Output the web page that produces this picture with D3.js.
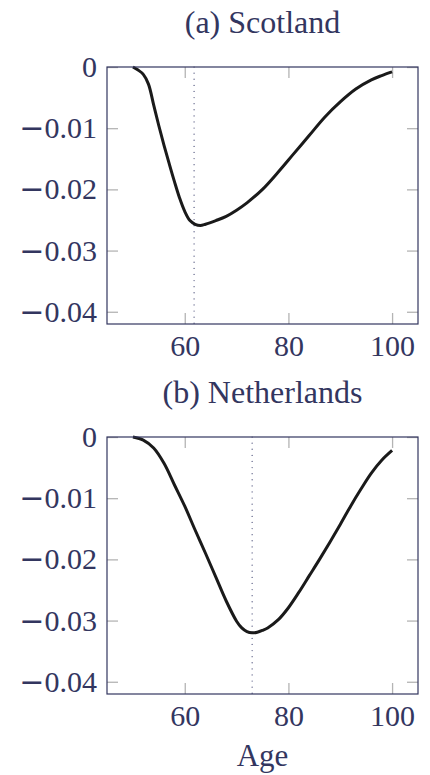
<!DOCTYPE html>
<html>
<head>
<meta charset="utf-8">
<script src="https://cdn.jsdelivr.net/npm/d3@7"></script>
<style>
  body { margin: 0; background: #fff; }
  svg { display: block; }
</style>
</head>
<body>
<div id="chart"></div>
<script>
// values
const scotAge = [50, 51, 52, 53, 54, 55, 56, 57, 58, 59, 60, 61, 62, 63, 64, 66, 68, 70, 72, 75, 78, 81, 84, 87, 90, 93, 96, 98, 100];
const scotVal = [0, -0.0005, -0.0012, -0.0028, -0.0062, -0.0096, -0.0128, -0.0158, -0.0187, -0.0214, -0.0236, -0.0251, -0.0257, -0.0259, -0.0257, -0.0251, -0.0244, -0.0234, -0.0222, -0.0200, -0.0172, -0.0142, -0.0112, -0.0082, -0.0057, -0.0036, -0.0021, -0.0014, -0.0008];

const nlAge = [50, 52, 54, 56, 58, 60, 62, 64, 66, 68, 70, 71, 72, 73, 74, 75, 76, 78, 80, 82, 84, 86, 88, 90, 92, 94, 96, 98, 100];
const nlVal = [0, -0.0005, -0.0018, -0.0043, -0.0078, -0.0113, -0.0152, -0.0190, -0.0229, -0.0268, -0.0301, -0.0312, -0.0318, -0.0320, -0.0319, -0.0316, -0.0312, -0.0299, -0.0279, -0.0254, -0.0227, -0.0200, -0.0172, -0.0143, -0.0113, -0.0085, -0.0059, -0.0038, -0.0022];

const panelTitles = ['(a) Scotland', '(b) Netherlands'];
const minAges = [61.8, 73.0];
const xTicks = [60, 80, 100];
const yTicks = [0, -0.01, -0.02, -0.03, -0.04];
const xLabel = 'Age';

const W = 430, H = 775;
const navy = '#33365f';
const tickGrey = '#b4b4b4';
const font = '"Liberation Serif", "DejaVu Serif", serif';

const svg = d3.select('#chart').append('svg')
  .attr('width', W).attr('height', H)
  .style('font-family', font);

const left = 107, plotW = 311, plotH = 257;
const x = d3.scaleLinear().domain([45, 105]).range([0, plotW]);
const y = d3.scaleLinear().domain([-0.042, 0]).range([plotH, 0]);

const panels = [
  { top: 67, titleY: 33, ages: scotAge, vals: scotVal },
  { top: 437, titleY: 403, ages: nlAge, vals: nlVal }
];

// minus sign from DejaVu so it is as wide as the TeX one
function yLabel(sel) {
  sel.each(function (d) {
    const t = d3.select(this).text('');
    if (d < 0) {
      t.append('tspan').style('font-family', '"DejaVu Serif"').text('\u2212');
      t.append('tspan').text(Math.abs(d).toFixed(2));
    } else {
      t.append('tspan').text('0');
    }
  });
}

panels.forEach((p, i) => {
  const g = svg.append('g').attr('transform', `translate(${left},${p.top})`);

  g.append('text')
    .attr('x', plotW / 2).attr('y', p.titleY - p.top)
    .attr('text-anchor', 'middle')
    .attr('fill', navy)
    .style('font-size', '32px')
    .text(panelTitles[i]);

  // inward ticks on all four sides
  const axL = g.append('g')
    .call(d3.axisLeft(y).tickValues(yTicks).tickSizeInner(-11).tickSizeOuter(0).tickPadding(10));
  axL.selectAll('text').call(yLabel);
  g.append('g').attr('transform', `translate(${plotW},0)`)
    .call(d3.axisRight(y).tickValues(yTicks).tickSizeInner(-11).tickSizeOuter(0).tickFormat(''));
  g.append('g').attr('transform', `translate(0,${plotH})`)
    .call(d3.axisBottom(x).tickValues(xTicks).tickSizeInner(-11).tickSizeOuter(0).tickPadding(11));
  g.append('g')
    .call(d3.axisTop(x).tickValues(xTicks).tickSizeInner(-11).tickSizeOuter(0).tickFormat(''));

  g.selectAll('.domain').remove();
  g.selectAll('g').attr('font-family', null).attr('font-size', null);
  g.selectAll('.tick line').attr('stroke', tickGrey).attr('stroke-width', 1.3);
  g.selectAll('.tick text')
    .attr('fill', navy)
    .style('font-size', '30px');

  // dotted line at the minimum
  g.append('line')
    .attr('x1', x(minAges[i])).attr('x2', x(minAges[i]))
    .attr('y1', 0).attr('y2', plotH)
    .attr('stroke', '#4a4e78')
    .attr('stroke-width', 1.2)
    .attr('stroke-linecap', 'round')
    .attr('stroke-dasharray', '0.1,6');

  const pts = p.ages.map((a, k) => [a, p.vals[k]]);
  g.append('path')
    .datum(pts)
    .attr('fill', 'none')
    .attr('stroke', '#1a1a1a')
    .attr('stroke-width', 3)
    .attr('stroke-linejoin', 'round')
    .attr('d', d3.line().x(d => x(d[0])).y(d => y(d[1])).curve(d3.curveCatmullRom.alpha(0.5)));

  g.append('rect')
    .attr('width', plotW).attr('height', plotH)
    .attr('fill', 'none')
    .attr('stroke', navy)
    .attr('stroke-width', 1.2);
});

svg.append('text')
  .attr('x', left + plotW / 2).attr('y', 766)
  .attr('text-anchor', 'middle')
  .attr('fill', navy)
  .style('font-size', '31px')
  .text(xLabel);
</script>
</body>
</html>
